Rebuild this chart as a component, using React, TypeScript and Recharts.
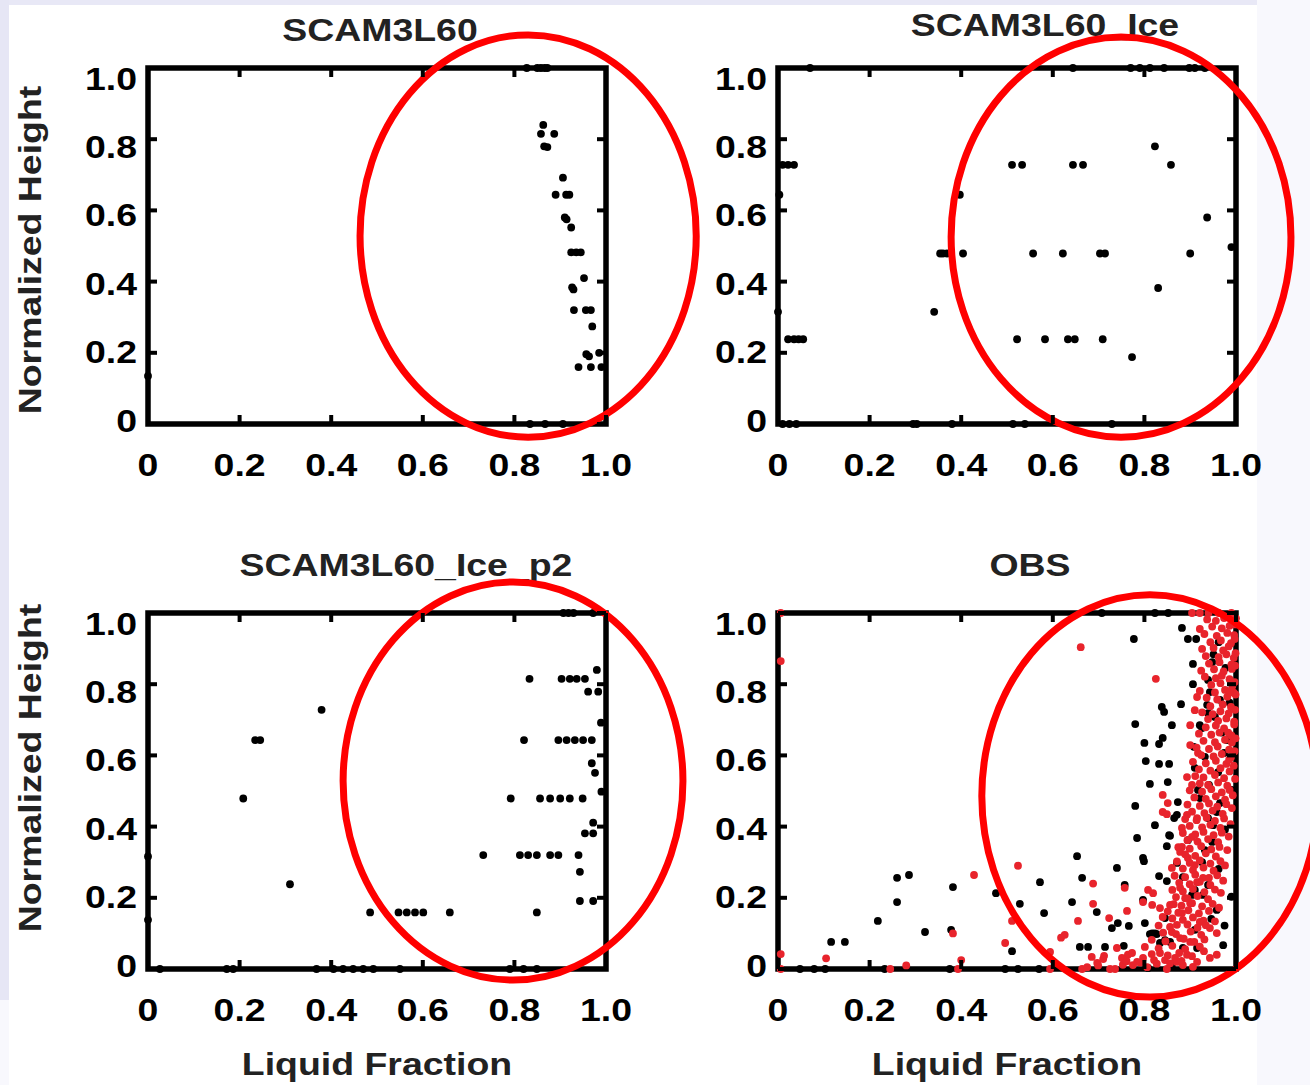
import React from 'react';
import { ScatterChart, Scatter, XAxis, YAxis, ReferenceDot, ReferenceArea } from 'recharts';

type XY = [number, number];

const xTicks = [0, 0.2, 0.4, 0.6, 0.8, 1.0];
const yTicks = [0, 0.2, 0.4, 0.6, 0.8, 1.0];

const panelTitles = ['SCAM3L60', 'SCAM3L60_Ice', 'SCAM3L60_Ice_p2', 'OBS'];
const xAxisTitle = 'Liquid Fraction';
const yAxisTitle = 'Normalized Height';

// liquid fraction vs normalized height
const scam3l60: XY[] = [
  [0.827, 1.0], [0.85, 1.0], [0.858, 1.0], [0.866, 1.0], [0.872, 1.0],
  [0.834, 0.0], [0.867, 0.0], [0.906, 0.0], [0.0, 0.135],
  [0.863, 0.84], [0.858, 0.815], [0.887, 0.815], [0.865, 0.78], [0.872, 0.778],
  [0.906, 0.692], [0.89, 0.644], [0.913, 0.644], [0.92, 0.644],
  [0.91, 0.58], [0.914, 0.575], [0.924, 0.552],
  [0.924, 0.482], [0.935, 0.482], [0.945, 0.482],
  [0.952, 0.41], [0.926, 0.384], [0.929, 0.378],
  [0.93, 0.32], [0.956, 0.32], [0.967, 0.32], [0.97, 0.274],
  [0.957, 0.196], [0.963, 0.19], [0.985, 0.2],
  [0.94, 0.16], [0.967, 0.16], [0.99, 0.16],
];

const scam3l60Ice: XY[] = [
  [0.07, 1.0], [0.644, 1.0], [0.77, 1.0], [0.79, 1.0], [0.812, 1.0], [0.843, 1.0], [0.898, 1.0], [0.91, 1.0], [0.932, 1.0],
  [0.01, 0.728], [0.022, 0.728], [0.035, 0.728],
  [0.003, 0.644], [0.397, 0.644],
  [0.511, 0.728], [0.533, 0.728], [0.644, 0.728], [0.666, 0.728],
  [0.823, 0.78], [0.858, 0.728], [0.937, 0.58],
  [0.354, 0.479], [0.36, 0.479], [0.369, 0.479], [0.404, 0.479], [0.557, 0.479], [0.622, 0.479],
  [0.703, 0.479], [0.714, 0.479], [0.9, 0.479], [0.99, 0.497],
  [0.83, 0.382], [0.341, 0.315], [0.0, 0.315],
  [0.022, 0.238], [0.035, 0.238], [0.045, 0.238], [0.055, 0.238],
  [0.522, 0.238], [0.583, 0.238], [0.633, 0.238], [0.648, 0.238], [0.709, 0.238],
  [0.773, 0.188],
  [0.01, 0.0], [0.025, 0.0], [0.04, 0.0], [0.295, 0.0], [0.303, 0.0], [0.38, 0.0],
  [0.513, 0.0], [0.539, 0.0], [0.729, 0.0],
];

const scam3l60IceP2: XY[] = [
  [0.907, 1.0], [0.918, 1.0], [0.929, 1.0], [0.972, 1.0],
  [0.98, 0.84], [0.833, 0.815], [0.903, 0.815], [0.921, 0.815], [0.936, 0.815], [0.954, 0.815],
  [0.961, 0.779], [0.983, 0.779], [0.989, 0.692], [0.379, 0.728],
  [0.234, 0.643], [0.245, 0.643], [0.821, 0.643], [0.896, 0.643], [0.914, 0.643], [0.932, 0.643], [0.95, 0.643], [0.969, 0.643],
  [0.969, 0.578], [0.976, 0.551], [0.99, 0.498],
  [0.208, 0.479], [0.792, 0.479], [0.856, 0.479], [0.878, 0.479], [0.9, 0.479], [0.921, 0.479], [0.949, 0.479],
  [0.972, 0.411], [0.954, 0.381], [0.972, 0.381],
  [0.732, 0.32], [0.812, 0.32], [0.83, 0.32], [0.849, 0.32], [0.878, 0.32], [0.896, 0.32], [0.94, 0.32],
  [0.943, 0.273], [0.31, 0.238], [0.943, 0.191], [0.972, 0.191],
  [0.485, 0.159], [0.547, 0.159], [0.565, 0.159], [0.583, 0.159], [0.601, 0.159], [0.659, 0.159], [0.849, 0.159],
  [0.0, 0.316], [0.0, 0.138],
  [0.026, 0.0], [0.172, 0.0], [0.186, 0.0], [0.368, 0.0], [0.405, 0.0], [0.426, 0.0], [0.448, 0.0],
  [0.47, 0.0], [0.492, 0.0], [0.55, 0.0], [0.79, 0.0], [0.82, 0.0], [0.849, 0.0],
];

const obsBlack: XY[] = [
  [0.26, 0.256], [0.286, 0.264], [0.26, 0.188], [0.218, 0.135], [0.116, 0.076], [0.146, 0.076],
  [0.321, 0.104], [0.378, 0.11], [0.382, 0.23], [0.476, 0.213],
  [0.048, 0.0], [0.079, 0.0], [0.103, 0.0], [0.233, 0.0], [0.375, 0.0], [0.496, 0.0], [0.524, 0.0], [0.57, 0.0],
  [0.653, 0.317], [0.664, 0.256], [0.572, 0.244], [0.528, 0.183], [0.642, 0.188], [0.581, 0.157], [0.696, 0.16],
  [0.511, 0.05], [0.659, 0.062], [0.677, 0.062], [0.714, 0.062], [0.755, 0.065],
  [0.74, 0.284], [0.757, 0.236], [0.742, 0.129], [0.729, 0.115], [0.766, 0.121],
  [0.707, 1.0], [0.823, 1.0], [0.852, 1.0],
  [0.777, 0.927], [0.882, 0.958], [0.895, 0.927], [0.913, 0.927], [0.906, 0.857], [0.906, 0.8],
  [0.838, 0.736], [0.843, 0.722], [0.88, 0.744], [0.78, 0.688], [0.86, 0.685],
  [0.8, 0.635], [0.832, 0.632], [0.84, 0.649], [0.803, 0.584], [0.832, 0.576], [0.854, 0.576],
  [0.812, 0.52], [0.851, 0.525], [0.78, 0.458], [0.873, 0.469], [0.823, 0.404], [0.871, 0.433],
  [0.854, 0.376], [0.849, 0.345], [0.784, 0.368], [0.797, 0.312], [0.799, 0.303],
  [0.832, 0.261], [0.849, 0.247], [0.884, 0.258], [0.797, 0.194], [0.801, 0.129],
  [0.812, 0.098], [0.827, 0.098], [0.834, 0.073],
  [0.939, 0.812], [0.948, 0.862], [0.965, 0.756], [0.954, 0.708], [0.969, 0.664], [0.98, 0.643],
  [0.932, 0.596], [0.974, 0.607], [0.921, 0.685], [0.926, 0.677], [0.939, 0.719], [0.91, 0.565],
  [0.908, 0.624], [0.941, 0.517], [0.865, 0.424], [0.856, 0.374], [0.895, 0.362], [0.871, 0.298],
  [0.904, 0.208], [0.91, 0.222], [0.932, 0.334], [0.948, 0.357], [0.926, 0.3], [0.939, 0.424],
  [0.958, 0.441], [0.921, 0.48], [0.917, 0.503], [0.95, 0.404], [0.965, 0.466],
  [0.845, 0.143], [0.817, 0.1], [0.823, 0.1], [0.845, 0.081], [0.856, 0.076], [0.91, 0.11],
  [0.884, 0.059], [0.915, 0.059], [0.808, 0.003], [0.86, 0.01], [0.972, 0.067],
  [0.958, 0.166], [0.939, 0.236], [0.928, 0.208],
  [0.943, 0.778], [0.937, 0.742], [0.962, 0.918], [0.977, 0.846], [0.951, 0.884],
  [0.986, 0.748], [0.961, 0.553], [0.99, 0.503], [0.976, 0.392], [0.962, 0.281], [0.99, 0.203],
  [0.946, 0.141], [0.975, 0.122],
];

const obsRed: XY[] = [
  [0.006, 1.0], [0.006, 0.865], [0.006, 0.042], [0.006, 0.0], [0.105, 0.03], [0.245, 0.0], [0.28, 0.01],
  [0.428, 0.264], [0.382, 0.1], [0.4, 0.025], [0.393, 0.0], [0.496, 0.073],
  [0.661, 0.904], [0.825, 0.815], [0.524, 0.29], [0.688, 0.24], [0.688, 0.183], [0.511, 0.135],
  [0.618, 0.088], [0.626, 0.096], [0.655, 0.135], [0.723, 0.143], [0.757, 0.228], [0.762, 0.163],
  [0.74, 0.059], [0.685, 0.034], [0.712, 0.037], [0.697, 0.017], [0.594, 0.048], [0.594, 0.0],
  [0.664, 0.0], [0.675, 0.005], [0.725, 0.0], [0.736, 0.0],
  [0.699, 0.01], [0.71, 0.028], [0.753, 0.012], [0.764, 0.04], [0.773, 0.045], [0.784, 0.02],
  [0.797, 0.031], [0.775, 0.011], [0.751, 0.031], [0.806, 0.005], [0.827, 0.015], [0.834, 0.045],
  [0.845, 0.025], [0.867, 0.031], [0.884, 0.011], [0.906, 0.006], [0.943, 0.031], [0.849, 0.0],
  [0.871, 0.02], [0.893, 0.04], [0.915, 0.02], [0.93, 0.05], [0.958, 0.04],
  [0.921, 0.955], [0.915, 0.764], [0.91, 0.727], [0.9, 0.685], [0.9, 0.629], [0.917, 0.607],
  [0.893, 0.539], [0.904, 0.517], [0.84, 0.489], [0.851, 0.466], [0.84, 0.441], [0.849, 0.435],
  [0.893, 0.433], [0.882, 0.396], [0.915, 0.424], [0.904, 0.371], [0.882, 0.343], [0.878, 0.329],
  [0.86, 0.284], [0.895, 0.312], [0.91, 0.292], [0.808, 0.222], [0.819, 0.213], [0.797, 0.188],
  [0.817, 0.18], [0.834, 0.171], [0.856, 0.18], [0.84, 0.146], [0.882, 0.157], [0.889, 0.199],
  [0.9, 0.185], [0.878, 0.228], [0.915, 0.244], [0.928, 0.256], [0.86, 0.104], [0.871, 0.124],
  [0.878, 0.087], [0.9, 0.076], [0.921, 0.132], [0.943, 0.115], [0.958, 0.101],
  [0.904, 1.0], [0.921, 1.0], [0.94, 1.0], [0.962, 1.0], [0.99, 1.0], [1.0, 0.985],
  [0.937, 0.982], [0.956, 0.978], [0.974, 0.986], [0.992, 0.976],
  [0.948, 0.962], [0.969, 0.957], [0.986, 0.964],
  [0.931, 0.941], [0.958, 0.936], [0.981, 0.944], [0.996, 0.938],
  [0.944, 0.918], [0.967, 0.923], [0.989, 0.915],
  [0.926, 0.899], [0.951, 0.902], [0.972, 0.895], [0.984, 0.906],
  [0.934, 0.879], [0.962, 0.876], [0.979, 0.884], [0.995, 0.874],
  [0.941, 0.858], [0.964, 0.862], [0.99, 0.855],
  [0.924, 0.838], [0.952, 0.842], [0.973, 0.836], [0.991, 0.843],
  [0.932, 0.821], [0.956, 0.817], [0.969, 0.824], [0.986, 0.814],
  [0.946, 0.798], [0.966, 0.803], [0.992, 0.795],
  [0.921, 0.781], [0.954, 0.777], [0.976, 0.784], [0.995, 0.776],
  [0.936, 0.762], [0.959, 0.757], [0.981, 0.765],
  [0.944, 0.738], [0.971, 0.743], [0.989, 0.736],
  [0.926, 0.721], [0.949, 0.716], [0.966, 0.724], [0.984, 0.718],
  [0.939, 0.702], [0.961, 0.697], [0.979, 0.704], [0.996, 0.695],
  [0.934, 0.679], [0.956, 0.684], [0.974, 0.676],
  [0.919, 0.661], [0.946, 0.658], [0.964, 0.664], [0.99, 0.656],
  [0.929, 0.641], [0.954, 0.637], [0.976, 0.644], [0.991, 0.636],
  [0.914, 0.622], [0.941, 0.618], [0.96, 0.625], [0.985, 0.616],
  [0.924, 0.601], [0.951, 0.597], [0.969, 0.604], [0.989, 0.595],
  [0.906, 0.582], [0.934, 0.578], [0.956, 0.585], [0.979, 0.576],
  [0.919, 0.561], [0.944, 0.557], [0.966, 0.564], [0.986, 0.555],
  [0.911, 0.542], [0.929, 0.538], [0.954, 0.545], [0.974, 0.536],
  [0.921, 0.521], [0.939, 0.517], [0.961, 0.524], [0.981, 0.515],
  [0.899, 0.502], [0.926, 0.498], [0.946, 0.505], [0.969, 0.496], [0.986, 0.503],
  [0.909, 0.482], [0.934, 0.478], [0.956, 0.485], [0.976, 0.476],
  [0.894, 0.462], [0.921, 0.458], [0.941, 0.465], [0.959, 0.456], [0.979, 0.463],
  [0.904, 0.442], [0.931, 0.438], [0.949, 0.445], [0.971, 0.436],
  [0.889, 0.421], [0.914, 0.418], [0.936, 0.425], [0.954, 0.416], [0.974, 0.423],
  [0.899, 0.402], [0.926, 0.398], [0.944, 0.405], [0.966, 0.396],
  [0.884, 0.382], [0.911, 0.378], [0.929, 0.385], [0.951, 0.376], [0.969, 0.383],
  [0.894, 0.362], [0.916, 0.358], [0.939, 0.365], [0.961, 0.356],
  [0.874, 0.342], [0.899, 0.338], [0.924, 0.345], [0.946, 0.336], [0.964, 0.343],
  [0.889, 0.322], [0.911, 0.318], [0.934, 0.325], [0.956, 0.316],
  [0.871, 0.302], [0.899, 0.298], [0.921, 0.305], [0.944, 0.296], [0.966, 0.303],
  [0.884, 0.282], [0.906, 0.278], [0.929, 0.285], [0.951, 0.276],
  [0.866, 0.262], [0.889, 0.258], [0.911, 0.265], [0.941, 0.256], [0.959, 0.263],
  [0.876, 0.242], [0.899, 0.238], [0.921, 0.245], [0.944, 0.236],
  [0.861, 0.222], [0.884, 0.218], [0.906, 0.225], [0.931, 0.216], [0.954, 0.223],
  [0.869, 0.202], [0.894, 0.198], [0.916, 0.205], [0.939, 0.196],
  [0.864, 0.182], [0.881, 0.178], [0.904, 0.185], [0.926, 0.176], [0.949, 0.183],
  [0.851, 0.162], [0.874, 0.158], [0.896, 0.165], [0.919, 0.156], [0.941, 0.163],
  [0.861, 0.142], [0.884, 0.138], [0.906, 0.145], [0.929, 0.136],
  [0.831, 0.122], [0.856, 0.118], [0.894, 0.125], [0.916, 0.116], [0.934, 0.123],
  [0.841, 0.102], [0.869, 0.098], [0.901, 0.105], [0.924, 0.096],
  [0.816, 0.082], [0.846, 0.078], [0.886, 0.085], [0.909, 0.076], [0.931, 0.083],
  [0.801, 0.062], [0.831, 0.058], [0.861, 0.065], [0.889, 0.056], [0.921, 0.063],
  [0.816, 0.042], [0.851, 0.038], [0.876, 0.045], [0.904, 0.036],
  [0.761, 0.022], [0.791, 0.018], [0.821, 0.025], [0.856, 0.016], [0.881, 0.023],
  [0.998, 0.968], [0.997, 0.927], [0.999, 0.887], [0.998, 0.852], [0.997, 0.806],
  [0.999, 0.771], [0.998, 0.728], [0.996, 0.687], [0.999, 0.648], [0.997, 0.612],
  [0.995, 0.571], [0.998, 0.534], [0.993, 0.488], [0.991, 0.452], [0.988, 0.407],
  [0.984, 0.372], [0.981, 0.334], [0.976, 0.291], [0.972, 0.248], [0.967, 0.214],
  [0.963, 0.172], [0.954, 0.134], [0.985, 0.588], [0.983, 0.664], [0.987, 0.781],
];

// hand-drawn red circles: centre and radii in data units
const circleCx = [0.83, 0.749, 0.797, 0.812];
const circleCy = [0.528, 0.525, 0.528, 0.486];
const circleRx = [0.367, 0.371, 0.371, 0.367];
const circleRy = [0.565, 0.562, 0.559, 0.565];

const W = 655;
const H = 545;
const PLOT_L = 148;
const PLOT_T = 68;
const PLOT_W = 458;
const PLOT_H = 356;
const XAXIS_H = 60;
const TICK_LEN = 9;
const FONT = '"Liberation Sans", Arial, Helvetica, sans-serif';
const STRETCH = 1.17;

const fmt = (v: number) => (v === 0 ? '0' : v.toFixed(1));

const toPts = (arr: XY[]) => arr.map(([x, y]) => ({ x, y }));

// bottom axis tick: label below, inward tick marks on bottom and top edges
const XTick = (props: any) => {
  const { x, y, payload } = props;
  return (
    <g>
      <line x1={x} y1={y} x2={x} y2={y - TICK_LEN} stroke="#000" strokeWidth={4} />
      <line x1={x} y1={y - PLOT_H} x2={x} y2={y - PLOT_H + TICK_LEN} stroke="#000" strokeWidth={4} />
      <text
        transform={`translate(${x},${y + 52}) scale(${STRETCH},1)`}
        textAnchor="middle"
        fontFamily={FONT}
        fontWeight={700}
        fontSize={32}
        fill="#000"
      >
        {fmt(payload.value)}
      </text>
    </g>
  );
};

// left axis tick: label on the left, inward tick marks on left and right edges
const YTick = (props: any) => {
  const { x, y, payload } = props;
  const v = payload.value;
  const shift = 10 * v - 4 * (1 - v);
  return (
    <g>
      <line x1={x} y1={y} x2={x + TICK_LEN} y2={y} stroke="#000" strokeWidth={4} />
      <line x1={x + PLOT_W} y1={y} x2={x + PLOT_W - TICK_LEN} y2={y} stroke="#000" strokeWidth={4} />
      <text
        transform={`translate(${x - 11},${y + shift + 11.5}) scale(${STRETCH},1)`}
        textAnchor="end"
        fontFamily={FONT}
        fontWeight={700}
        fontSize={32}
        fill="#000"
      >
        {fmt(v)}
      </text>
    </g>
  );
};

const makeDot = (color: string) => (props: any) => (
  <circle cx={props.cx} cy={props.cy} r={3.9} fill={color} />
);

type Series = { data: XY[]; color: string };

type PanelProps = {
  left: number;
  top: number;
  title: string;
  titleX: number;
  titleY: number;
  yLabelY: number;
  showXLabel: boolean;
  showYLabel: boolean;
  series: Series[];
  idx: number;
};

const Panel: React.FC<PanelProps> = ({
  left,
  top,
  title,
  titleX,
  titleY,
  yLabelY,
  showXLabel,
  showYLabel,
  series,
  idx,
}) => {
  const rx = circleRx[idx] * PLOT_W;
  const ry = circleRy[idx] * PLOT_H;
  return (
    <div style={{ position: 'absolute', left, top, width: W, height: H }}>
      <ScatterChart
        width={W}
        height={H}
        margin={{
          top: PLOT_T,
          right: W - PLOT_L - PLOT_W,
          bottom: H - PLOT_T - PLOT_H - XAXIS_H,
          left: 0,
        }}
      >
        <XAxis
          xAxisId="b"
          type="number"
          dataKey="x"
          domain={[0, 1]}
          ticks={xTicks}
          interval={0}
          height={XAXIS_H}
          axisLine={false}
          tickLine={false}
          tickSize={0}
          tickMargin={0}
          tick={XTick}
          label={
            showXLabel
              ? () => (
                  <text
                    transform={`translate(${PLOT_L + PLOT_W / 2},${H - 15}) scale(${STRETCH},1)`}
                    textAnchor="middle"
                    fontFamily={FONT}
                    fontWeight={700}
                    fontSize={32}
                    fill="#222"
                  >
                    {xAxisTitle}
                  </text>
                )
              : undefined
          }
        />
        <YAxis
          yAxisId="l"
          type="number"
          dataKey="y"
          domain={[0, 1]}
          ticks={yTicks}
          interval={0}
          width={PLOT_L}
          axisLine={false}
          tickLine={false}
          tickSize={0}
          tickMargin={0}
          tick={YTick}
          label={
            showYLabel
              ? () => (
                  <text
                    transform={`translate(40.5,${yLabelY}) rotate(-90) scale(${STRETCH},1)`}
                    textAnchor="middle"
                    fontFamily={FONT}
                    fontWeight={700}
                    fontSize={32}
                    fill="#222"
                  >
                    {yAxisTitle}
                  </text>
                )
              : undefined
          }
        />
        <ReferenceArea
          xAxisId="b"
          yAxisId="l"
          x1={0}
          x2={1}
          y1={0}
          y2={1}
          fill="none"
          fillOpacity={0}
          stroke="#000"
          strokeWidth={5.5}
          ifOverflow="visible"
          label={() => (
            <text
              transform={`translate(${titleX},${titleY}) scale(${STRETCH},1)`}
              textAnchor="middle"
              fontFamily={FONT}
              fontWeight={700}
              fontSize={32}
              fill="#222"
            >
              {title}
            </text>
          )}
        />
        {series.map((s, i) => (
          <Scatter
            key={i}
            xAxisId="b"
            yAxisId="l"
            data={toPts(s.data)}
            fill={s.color}
            shape={makeDot(s.color)}
            isAnimationActive={false}
          />
        ))}
        <ReferenceDot
          xAxisId="b"
          yAxisId="l"
          x={circleCx[idx]}
          y={circleCy[idx]}
          ifOverflow="visible"
          shape={(p: any) => (
            <ellipse
              cx={p.cx}
              cy={p.cy}
              rx={rx}
              ry={ry}
              fill="none"
              stroke="#ff0000"
              strokeWidth={7}
            />
          )}
        />
      </ScatterChart>
    </div>
  );
};

const panels: PanelProps[] = [
  {
    idx: 0, left: 0, top: 0, title: panelTitles[0], titleX: 380, titleY: 41,
    yLabelY: 250, showXLabel: false, showYLabel: true,
    series: [{ data: scam3l60, color: '#000' }],
  },
  {
    idx: 1, left: 630, top: 0, title: panelTitles[1], titleX: 415, titleY: 36,
    yLabelY: 250, showXLabel: false, showYLabel: false,
    series: [{ data: scam3l60Ice, color: '#000' }],
  },
  {
    idx: 2, left: 0, top: 545, title: panelTitles[2], titleX: 406, titleY: 31,
    yLabelY: 223, showXLabel: true, showYLabel: true,
    series: [{ data: scam3l60IceP2, color: '#000' }],
  },
  {
    idx: 3, left: 630, top: 545, title: panelTitles[3], titleX: 400, titleY: 31,
    yLabelY: 223, showXLabel: true, showYLabel: false,
    series: [
      { data: obsBlack, color: '#000' },
      { data: obsRed, color: '#e8242c' },
    ],
  },
];

export default function App() {
  return (
    <div
      style={{
        position: 'absolute',
        left: 0,
        top: 0,
        width: 1310,
        height: 1085,
        background: '#f8f8fd',
        overflow: 'hidden',
      }}
    >
      <style>{'.recharts-surface{overflow:visible}'}</style>
      <div style={{ position: 'absolute', left: 0, top: 0, width: 1257, height: 5, background: '#e8e8f6' }} />
      <div style={{ position: 'absolute', left: 0, top: 0, width: 9, height: 1000, background: '#e6e6f5' }} />
      <div style={{ position: 'absolute', left: 9, top: 5, width: 1248, height: 1080, background: '#fff' }} />
      {panels.map((p) => (
        <Panel key={p.idx} {...p} />
      ))}
    </div>
  );
}
